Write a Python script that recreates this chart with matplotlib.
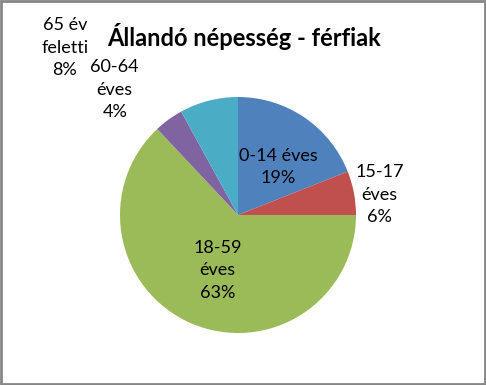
import numpy as np
import matplotlib
matplotlib.use("Agg")
import matplotlib.pyplot as plt
from matplotlib.patches import Rectangle

# data
categories = ["0-14 éves", "15-17\néves", "18-59\néves", "60-64\néves", "65 év\nfeletti"]
shares = [19, 6, 63, 4, 8]
colors = ["#4F81BD", "#C0504D", "#9BBB59", "#8064A2", "#4BACC6"]
title = "Állandó népesség - férfiak"

# label layout (distance in radii, angle offset in degrees from wedge middle)
label_dist = [0.53, 1.21, 0.50, 1.49, 2.04]
label_shift = [5.6, 2.7, -3.3, -8.5, -31.6]

plt.rcParams['font.family'] = ['Lato', 'DejaVu Sans']

fig = plt.figure(figsize=(4.86, 3.85), dpi=100)
ax = fig.add_axes([0, 0, 1, 1])

cx, cy, r = 238, 170, 118
wedges, _ = ax.pie(shares, colors=colors, startangle=90, counterclock=False,
                   center=(cx, cy), radius=r, frame=True,
                   wedgeprops=dict(linewidth=0))
ax.set_xlim(0, 486)
ax.set_ylim(0, 385)
ax.set_aspect('equal')
ax.axis('off')

total = sum(shares)
cum = np.cumsum([0] + shares[:-1])
for i, (cat, val) in enumerate(zip(categories, shares)):
    mid = (cum[i] + val / 2) / total * 360 + label_shift[i]
    ang = np.deg2rad(90 - mid)
    x = cx + label_dist[i] * r * np.cos(ang)
    y = cy + label_dist[i] * r * np.sin(ang)
    ax.text(x, y, f"{cat}\n{round(val / total * 100)}%", ha='center', va='center',
            fontsize=13, linespacing=1.5, color='black')

fig.text(244 / 486, 1 - 37 / 385, title, ha='center', va='center',
         fontsize=17, fontweight='bold')

fig.patches.append(Rectangle((0.002, 0.003), 0.995, 0.994, transform=fig.transFigure,
                             fill=False, edgecolor='#868686', linewidth=2))

fig.savefig('out.png', dpi=100)
